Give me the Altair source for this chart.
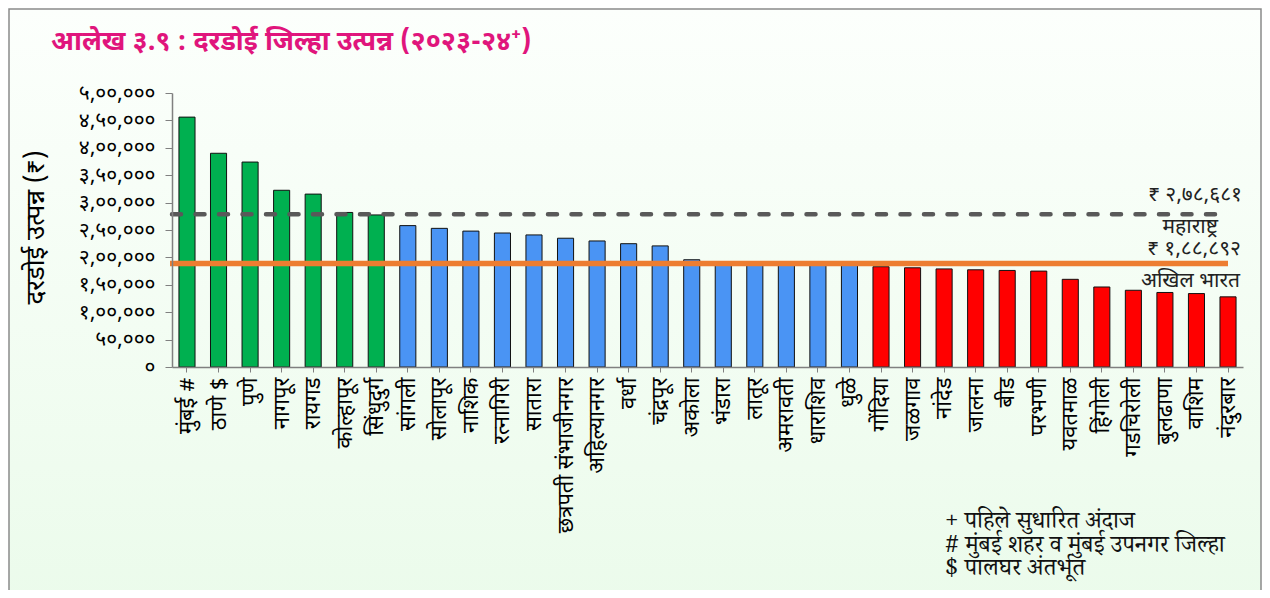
import altair as alt
import pandas as pd

districts = ["मुंबई #", "ठाणे $", "पुणे", "नागपूर", "रायगड", "कोल्हापूर", "सिंधुदुर्ग",
             "सांगली", "सोलापूर", "नाशिक", "रत्नागिरी", "सातारा", "छत्रपती संभाजीनगर",
             "अहिल्यानगर", "वर्धा", "चंद्रपूर", "अकोला", "भंडारा", "लातूर", "अमरावती",
             "धाराशिव", "धुळे", "गोंदिया", "जळगाव", "नांदेड", "जालना", "बीड", "परभणी",
             "यवतमाळ", "हिंगोली", "गडचिरोली", "बुलढाणा", "वाशिम", "नंदुरबार"]
values = [456000, 390000, 374000, 322500, 315500, 282000, 277500,
          258000, 253000, 248000, 244500, 241000, 235000,
          230000, 225000, 221000, 195700, 192000, 191500, 190500,
          189800, 189200, 183000, 181000, 179000, 177400, 176200, 175000,
          160000, 146000, 140000, 136000, 134000, 128000]
groups = ["g"] * 7 + ["b"] * 15 + ["r"] * 12
group_domain = ["g", "b", "r"]
group_colors = ["#00b050", "#4a94f4", "#ff0000"]

y_ticks = [0, 50000, 100000, 150000, 200000, 250000, 300000, 350000, 400000, 450000, 500000]
y_tick_labels = ["०", "५०,०००", "१,००,०००", "१,५०,०००", "२,००,०००", "२,५०,०००",
                 "३,००,०००", "३,५०,०००", "४,००,०००", "४,५०,०००", "५,००,०००"]

mh_value = 278681
india_value = 188892
mh_label = "₹ २,७८,६८१"
mh_name = "महाराष्ट्र"
india_label = "₹ १,८८,८९२"
india_name = "अखिल भारत"

title_text = "आलेख ३.९ : दरडोई जिल्हा उत्पन्न (२०२३-२४⁺)"
y_title = "दरडोई उत्पन्न   (₹)"
notes = ["+ पहिले सुधारित अंदाज", "# मुंबई शहर व मुंबई उपनगर जिल्हा", "$ पालघर अंतर्भूत"]

W, H = 1071, 274
FONT = "Noto Sans Devanagari, Noto Sans, sans-serif"
SERIF = "Noto Serif Devanagari, Noto Serif, serif"

df = pd.DataFrame({"district": districts, "value": values, "group": groups})

label_expr = ""
for v, lab in zip(y_ticks, y_tick_labels):
    label_expr += f"datum.value == {v} ? '{lab}' : "
label_expr += "''"

y_scale = alt.Scale(domain=[0, 500000], nice=False)
y_axis = alt.Axis(values=y_ticks, labelExpr=label_expr, grid=False, labelOverlap=False,
                  title=y_title, titleFont=FONT, titleFontSize=26, titleFontWeight="normal",
                  titleColor="#000000", titleX=-137, titleY=H / 2 - 3, titleAngle=270,
                  titleAlign="center", titleBaseline="middle",
                  labelFont=FONT, labelFontSize=21, labelColor="#000000",
                  labelPadding=10, tickSize=7, tickColor="#808080",
                  domainColor="#808080", domainWidth=1.5, zindex=1)


def yenc():
    return alt.Y("value:Q", scale=y_scale, axis=y_axis)


bg = alt.Chart(pd.DataFrame({"a": [0]})).mark_rect(
    fill=alt.Gradient(gradient="linear", x1=0, y1=0, x2=0, y2=1,
                      stops=[alt.GradientStop(color="#fcfffc", offset=0),
                             alt.GradientStop(color="#ebfbeb", offset=1)]),
    stroke="#8a8a8a", strokeWidth=1.5
).encode(x=alt.value(-163), x2=alt.value(W + 18), y=alt.value(-84), y2=alt.value(H + 240))

bars = alt.Chart(df).mark_bar(stroke="#111111", strokeWidth=1).encode(
    x=alt.X("district:N", sort=None,
            scale=alt.Scale(paddingInner=0.49, paddingOuter=0.22),
            axis=alt.Axis(title=None, labelAngle=270, labelAlign="right", labelBaseline="middle",
                          labelFontSize=22, labelFont=FONT, labelColor="#000000",
                          labelPadding=5, tickSize=5, tickColor="#808080", labelOverlap=False,
                          domainColor="#808080", domainWidth=1.5, labelLimit=300, zindex=1)),
    y=yenc(),
    color=alt.Color("group:N", scale=alt.Scale(domain=group_domain, range=group_colors), legend=None),
)

lines_df = pd.DataFrame({"value": [mh_value, india_value], "k": ["mh", "in"]})
mh_rule = alt.Chart(lines_df[lines_df.k == "mh"]).mark_rule(
    color="#595959", strokeWidth=4.5, strokeDash=[9, 14.5], strokeCap="round"
).encode(y=yenc(), x=alt.value(0), x2=alt.value(W - 15))
in_rule = alt.Chart(lines_df[lines_df.k == "in"]).mark_rule(
    color="#ed7d31", strokeWidth=5.5
).encode(y=yenc(), x=alt.value(-2), x2=alt.value(W - 15))

ann_df = pd.DataFrame({
    "t": [mh_label, mh_name, india_label, india_name],
    "value": [mh_value, mh_value, india_value, india_value],
})
def ann(i, dx, dy):
    return alt.Chart(ann_df.iloc[[i]]).mark_text(
        align="right", baseline="middle", fontSize=21, font=FONT, color="#222222", dx=dx, dy=dy
    ).encode(y=yenc(), x=alt.value(W), text="t:N")
anns = ann(0, -1, -19) + ann(1, -25, 13) + ann(2, -2, -14) + ann(3, -3, 18)

title = alt.Chart(pd.DataFrame({"t": [title_text]})).mark_text(
    align="left", baseline="middle", fontSize=27, fontWeight="bold", font=FONT, color="#e0157c"
).encode(x=alt.value(-121), y=alt.value(-51), text="t:N")

note_layers = []
for i, note in enumerate(notes):
    note_layers.append(
        alt.Chart(pd.DataFrame({"t": [note]})).mark_text(
            align="left", baseline="middle", fontSize=24, font=SERIF, color="#111111"
        ).encode(x=alt.value(773), y=alt.value(428 + 23.5 * i), text="t:N")
    )

chart = alt.layer(bg, bars, mh_rule, in_rule, anns, title, *note_layers).properties(
    width=W, height=H,
    autosize=alt.AutoSizeParams(type="none"),
    padding={"left": 164, "top": 85, "right": 19, "bottom": 223},
    background="#ffffff",
).configure_view(stroke=None)

chart.save("out.html", embed_options={"renderer": "svg", "actions": False})
